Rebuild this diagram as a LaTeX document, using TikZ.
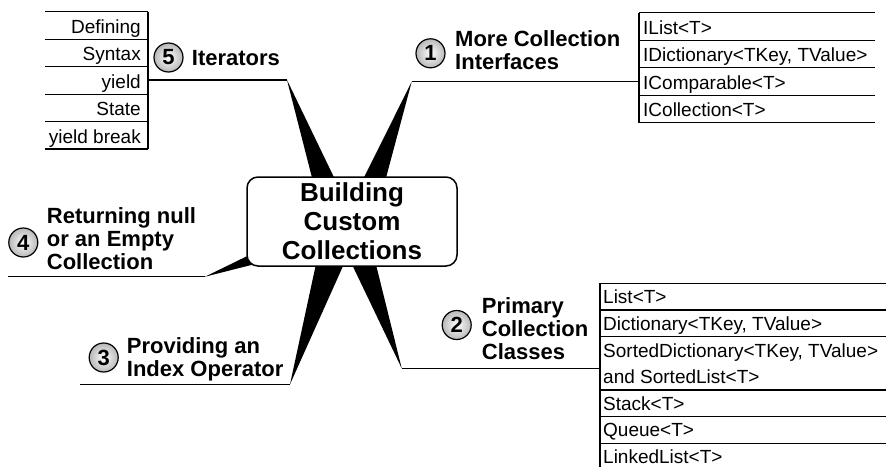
\documentclass[tikz,border=0pt]{standalone}
\usepackage{fontspec}
\setmainfont{Liberation Sans}
\usetikzlibrary{calc}
\begin{document}
\begin{tikzpicture}[x=1pt,y=-1pt,
  leaf/.style={inner sep=0pt, font=\fontsize{19}{19}\selectfont},
  leafr/.style={leaf, anchor=base east},
  leafl/.style={leaf, anchor=base west},
  head/.style={inner sep=0pt, anchor=base west, font=\fontsize{22}{23}\selectfont\bfseries},
  numc/.style={circle, draw=black, line width=1.2pt, minimum size=29pt, inner sep=0pt,
    inner color=white, outer color=black!28, font=\fontsize{22}{22}\selectfont\bfseries},
  tabrule/.style={line width=1.2pt},
  branch/.style={line width=1.5pt},
  spike/.style={fill=black, draw=none},
  hub/.style={draw=black, line width=1.5pt, fill=white, rounded corners=11pt,
    minimum width=210pt, minimum height=89pt, inner sep=0pt, align=center,
    font=\fontsize{26}{29}\selectfont\bfseries}
]
\useasboundingbox (0,0) rectangle (886,466);

% ---- branch end points (apexes of the spikes)
\coordinate (a5) at (287,80);
\coordinate (a1) at (411.7,81.7);
\coordinate (a4) at (205,276.7);
\coordinate (a3) at (290,384.3);
\coordinate (a2) at (401.7,368.3);
% ---- spike targets inside the hub
\coordinate (t5) at (338.5,221);
\coordinate (t1) at (359,221);
\coordinate (t4) at (350,223.6);
\coordinate (t3) at (343.6,221);
\coordinate (t2) at (348.8,221);

% ---- spikes
\fill[spike] ($(t5)!15pt!90:(a5)$) -- (a5) -- ($(t5)!15pt!-90:(a5)$) -- cycle;
\fill[spike] ($(t1)!15pt!90:(a1)$) -- (a1) -- ($(t1)!15pt!-90:(a1)$) -- cycle;
\fill[spike] ($(t4)!16pt!90:(a4)$) -- (a4) -- ($(t4)!16pt!-90:(a4)$) -- cycle;
\fill[spike] ($(t3)!18pt!90:(a3)$) -- (a3) -- ($(t3)!18pt!-90:(a3)$) -- cycle;
\fill[spike] ($(t2)!16pt!90:(a2)$) -- (a2) -- ($(t2)!16pt!-90:(a2)$) -- cycle;

% ---- hub
\node[hub] (hub) at (352,221.5) {Building\\Custom\\Collections};

% ================= Branch 5: Iterators
\coordinate (t5top) at (148,11.7);
\coordinate (t5bot) at (148,149);
\draw[tabrule] (t5top) -- (t5bot);
\foreach \y in {11.7,39.2,66.6,94.1,121.5,149}{
  \draw[tabrule] (45,\y) -- (148,\y);
}
\node[leafr] (l5a) at (141,33.2) {Defining};
\node[leafr] (l5b) at (141,60.6) {Syntax};
\node[leafr] (l5c) at (141,88.1) {yield};
\node[leafr] (l5d) at (141,115.5) {State};
\node[leafr] (l5e) at (141,143) {yield break};
\coordinate (b5) at (148,80);
\draw[branch] (b5) -- (a5);
\node[numc] (c5) at (168.5,57.5) {5};
\node[head] (h5) at (191.7,65) {Iterators};

% ================= Branch 1: More Collection Interfaces
\coordinate (t1top) at (639,12.7);
\coordinate (t1bot) at (639,122.7);
\draw[tabrule] (t1top) -- (t1bot);
\foreach \y in {12.7,40.2,67.7,95.2,122.7}{
  \draw[tabrule] (639,\y) -- (875,\y);
}
\node[leafl] (l1a) at (643,34) {IList<T>};
\node[leafl] (l1b) at (643,61.5) {IDictionary<TKey, TValue>};
\node[leafl] (l1c) at (643,89) {IComparable<T>};
\node[leafl] (l1d) at (643,116.5) {ICollection<T>};
\coordinate (b1) at (639,81.7);
\draw[branch] (a1) -- (b1);
\node[numc] (c1) at (430.5,53.3) {1};
\node[head] (h1) at (455,46.7) {\begin{tabular}[t]{@{}l@{}}More Collection\\Interfaces\end{tabular}};

% ================= Branch 4: Returning null
\coordinate (e4) at (8,276.7);
\draw[branch] (e4) -- (a4);
\node[numc] (c4) at (23.3,242.5) {4};
\node[head] (h4) at (46.7,223.3) {\begin{tabular}[t]{@{}l@{}}Returning null\\or an Empty\\Collection\end{tabular}};

% ================= Branch 3: Index Operator
\coordinate (e3) at (80,384.3);
\draw[branch] (e3) -- (a3);
\node[numc] (c3) at (103.7,357.5) {3};
\node[head] (h3) at (126.7,353.3) {\begin{tabular}[t]{@{}l@{}}Providing an\\Index Operator\end{tabular}};

% ================= Branch 2: Primary Collection Classes
\coordinate (t2top) at (600,283.3);
\coordinate (t2bot) at (600,470);
\draw[tabrule] (t2top) -- (t2bot);
\foreach \y in {283.3,310,336.7,390,416.7,443.4}{
  \draw[tabrule] (600,\y) -- (890,\y);
}
\node[leafl] (l2a) at (603,303.5) {List<T>};
\node[leafl] (l2b) at (603,330.2) {Dictionary<TKey, TValue>};
\node[leafl] (l2c) at (603,357) {SortedDictionary<TKey, TValue>};
\node[leafl] (l2d) at (603,383.5) {and SortedList<T>};
\node[leafl] (l2e) at (603,410.2) {Stack<T>};
\node[leafl] (l2f) at (603,436.9) {Queue<T>};
\node[leafl] (l2g) at (603,463.5) {LinkedList<T>};
\coordinate (b2) at (600,368.3);
\draw[branch] (a2) -- (b2);
\node[numc] (c2) at (456.7,325) {2};
\node[head] (h2) at (481.7,313.5) {\begin{tabular}[t]{@{}l@{}}Primary\\Collection\\Classes\end{tabular}};

\end{tikzpicture}
\end{document}
